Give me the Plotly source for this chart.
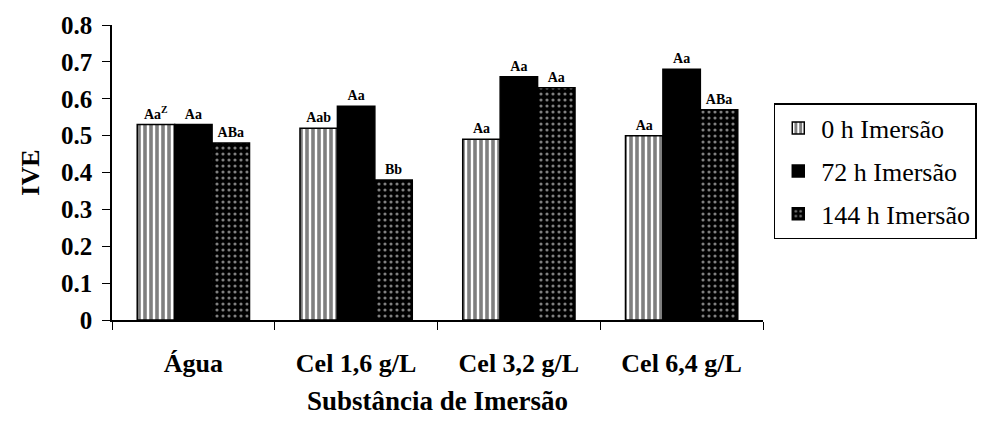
import plotly.graph_objects as go

# substâncias de imersão (eixo x)
categorias = ["Água", "Cel 1,6 g/L", "Cel 3,2 g/L", "Cel 6,4 g/L"]
series = ["0 h Imersão", "72 h Imersão", "144 h Imersão"]

# IVE
ive_0h = [0.53, 0.52, 0.49, 0.50]
ive_72h = [0.53, 0.58, 0.66, 0.68]
ive_144h = [0.48, 0.38, 0.63, 0.57]

# letras do teste de médias sobre cada barra
letras_0h = ["Aa<sup>Z</sup>", "Aab", "Aa", "Aa"]
letras_72h = ["Aa", "Aa", "Aa", "Aa"]
letras_144h = ["ABa", "Bb", "Aa", "ABa"]

y_ticks = [0, 0.1, 0.2, 0.3, 0.4, 0.5, 0.6, 0.7, 0.8]
y_ticktext = ["0", "0.1", "0.2", "0.3", "0.4", "0.5", "0.6", "0.7", "0.8"]

FONTE = "'Liberation Serif', 'Times New Roman', serif"

# padrões em preto e branco como no original
padroes = [
    dict(shape="|", fgcolor="black", bgcolor="white", size=6, solidity=0.6),
    dict(shape="", fgcolor="black", bgcolor="black"),
    dict(shape=".", fgcolor="white", bgcolor="black", size=6, solidity=0.22),
]

fig = go.Figure()
for i, (nome, valores, letras, padrao) in enumerate(zip(
    series, [ive_0h, ive_72h, ive_144h], [letras_0h, letras_72h, letras_144h], padroes
)):
    fig.add_trace(go.Bar(
        x=categorias,
        y=valores,
        name=nome,
        legendgroup=f"g{i}",
        text=letras,
        textposition="outside",
        cliponaxis=False,
        textfont=dict(family=FONTE, size=14, color="black", weight="bold"),
        marker=dict(color="black" if padrao["shape"] == "" else "white",
                    pattern=padrao,
                    line=dict(color="black", width=1.5)),
    ))

# a página tem margem de 8 px no body, por isso 980x419
fig.update_layout(
    width=980,
    height=419,
    barmode="group",
    bargap=0.31,
    bargroupgap=0,
    plot_bgcolor="white",
    paper_bgcolor="white",
    font=dict(family=FONTE, color="black"),
    margin=dict(l=104, r=224, t=17, b=107),
    xaxis=dict(
        showline=True,
        linecolor="black",
        linewidth=1.5,
        ticks="outside",
        tickson="boundaries",
        ticklen=8,
        tickcolor="black",
        ticklabelstandoff=19,
        automargin=False,
        tickfont=dict(family=FONTE, size=26, color="black", weight="bold"),
        title=dict(text="<b>Substância de Imersão</b>", font=dict(family=FONTE, size=27), standoff=14),
    ),
    yaxis=dict(
        range=[0, 0.8],
        tickvals=y_ticks,
        ticktext=y_ticktext,
        showline=True,
        linecolor="black",
        linewidth=1.5,
        showgrid=False,
        zeroline=False,
        ticks="outside",
        ticklen=8,
        tickcolor="black",
        ticklabelstandoff=5,
        automargin=False,
        tickfont=dict(family=FONTE, size=25, color="black", weight="bold"),
        title=dict(text="<b>IVE</b>", font=dict(family=FONTE, size=26), standoff=14),
    ),
    legend=dict(
        x=1.015,
        y=0.735,
        xanchor="left",
        yanchor="top",
        traceorder="grouped",
        bordercolor="black",
        borderwidth=1.5,
        font=dict(family=FONTE, size=26, color="black"),
        tracegroupgap=6,
        itemwidth=36,
    ),
)

fig.write_html("out.html")
